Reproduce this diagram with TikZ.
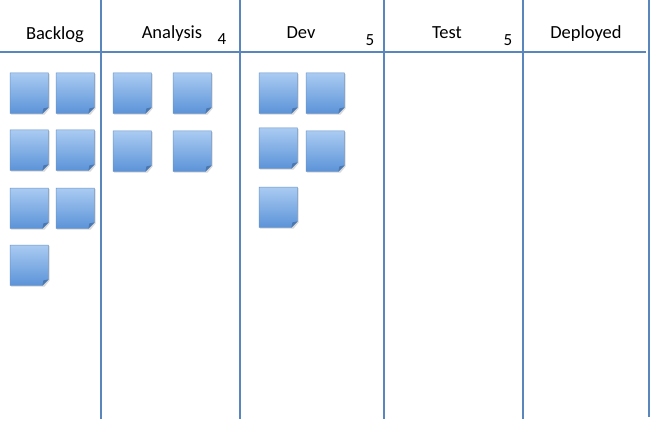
\documentclass[tikz,border=0pt]{standalone}
\usepackage{fontspec}
\setmainfont{Carlito}
\definecolor{boardline}{HTML}{5A86BE}
\definecolor{notetop}{HTML}{AACBF2}
\definecolor{notebot}{HTML}{5B93D8}
\definecolor{noteedge}{HTML}{6A94C8}
\definecolor{notefold}{HTML}{4C78B0}
\tikzset{
  boardrule/.style={draw=boardline, line width=1.8pt},
  heading/.style={anchor=base, inner sep=0pt, font=\fontsize{18.5}{20}\selectfont, text=black},
  wiplimit/.style={anchor=base, inner sep=0pt, font=\fontsize{17}{19}\selectfont, text=black},
  notebox/.style={minimum width=38pt, minimum height=40pt, inner sep=0pt, anchor=north west}
}
\newcommand{\stickynote}[3]{%
  \node[notebox] (#1) at (#2,#3) {};
  \fill[black!25, opacity=0.6] ([xshift=1.2pt,yshift=-1.2pt]#1.north west) -- ([xshift=1.2pt,yshift=-1.2pt]#1.north east) -- ([xshift=1.2pt,yshift=5pt]#1.south east) -- ([xshift=-5pt+1.2pt,yshift=-1.2pt]#1.south east) -- ([xshift=1.2pt,yshift=-1.2pt]#1.south west) -- cycle;
  \shade[top color=notetop, bottom color=notebot, draw=noteedge, line width=0.5pt]
    (#1.north west) -- (#1.north east) -- ([yshift=6pt]#1.south east) -- ([xshift=-6pt]#1.south east) -- (#1.south west) -- cycle;
  \fill[notefold] ([yshift=6pt]#1.south east) -- ([xshift=-6pt]#1.south east) -- ([xshift=-5pt,yshift=5pt]#1.south east) -- cycle;
}
\begin{document}
\begin{tikzpicture}[x=1pt,y=-1pt]
\useasboundingbox (0,0) rectangle (653,425);
\fill[white] (0,0) rectangle (653,425);
% board lines
\coordinate (h1) at (0,52);
\coordinate (h2) at (646,52);
\draw[boardrule] (h1) -- (h2);
\coordinate (v1t) at (101,0); \coordinate (v1b) at (101,419);
\coordinate (v2t) at (240,0); \coordinate (v2b) at (240,419);
\coordinate (v3t) at (384,0); \coordinate (v3b) at (384,419);
\coordinate (v4t) at (523,0); \coordinate (v4b) at (523,419);
\coordinate (v5t) at (649,0); \coordinate (v5b) at (649,417);
\draw[boardrule] (v1t) -- (v1b);
\draw[boardrule] (v2t) -- (v2b);
\draw[boardrule] (v3t) -- (v3b);
\draw[boardrule] (v4t) -- (v4b);
\draw[boardrule] (v5t) -- (v5b);
% headings
\node[heading] (backlog) at (55,40) {Backlog};
\node[heading] (analysis) at (172,39) {Analysis};
\node[wiplimit] (alim) at (222,45) {4};
\node[heading] (dev) at (301,39) {Dev};
\node[wiplimit] (dlim) at (370,46) {5};
\node[heading] (test) at (447,39) {Test};
\node[wiplimit] (tlim) at (508,46) {5};
\node[heading] (deployed) at (586,39) {Deployed};
% backlog notes
\stickynote{b1}{10}{73}
\stickynote{b2}{56}{73}
\stickynote{b3}{10}{130}
\stickynote{b4}{56}{130}
\stickynote{b5}{10}{188}
\stickynote{b6}{56}{188}
\stickynote{b7}{10}{245}
% analysis notes
\stickynote{a1}{113}{73}
\stickynote{a2}{173}{73}
\stickynote{a3}{113}{131}
\stickynote{a4}{173}{131}
% dev notes
\stickynote{d1}{259}{73}
\stickynote{d2}{306}{73}
\stickynote{d3}{259}{128}
\stickynote{d4}{306}{131}
\stickynote{d5}{259}{187}
\end{tikzpicture}
\end{document}
